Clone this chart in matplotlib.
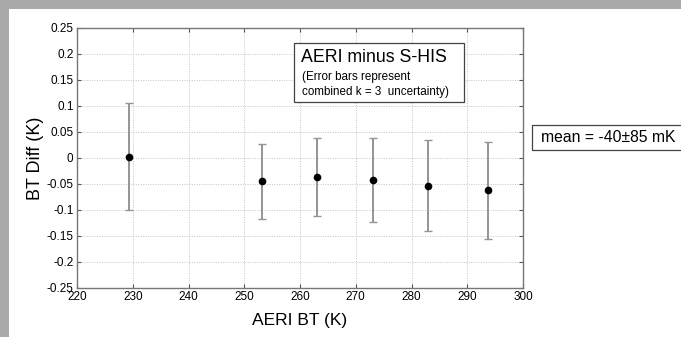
import numpy as np
import matplotlib.pyplot as plt
from matplotlib.patches import Rectangle

plt.rcParams['font.family'] = ['Liberation Sans', 'DejaVu Sans']

# AERI brightness temperature bins (K)
aeri_bt = [229.3, 253.2, 263.0, 273.1, 282.9, 293.7]
# AERI minus S-HIS brightness temperature difference (K)
bt_diff = [0.002, -0.045, -0.037, -0.043, -0.053, -0.062]
# combined k=3 uncertainty limits (K)
err_top = [0.105, 0.026, 0.038, 0.038, 0.035, 0.031]
err_bot = [-0.100, -0.117, -0.112, -0.124, -0.140, -0.156]

x_ticks = [220, 230, 240, 250, 260, 270, 280, 290, 300]
y_ticks = [0.25, 0.2, 0.15, 0.1, 0.05, 0, -0.05, -0.1, -0.15, -0.2, -0.25]

fig = plt.figure(figsize=(6.81, 3.37), dpi=100)
fig.patch.set_facecolor('#a9a9a9')
# white page area
fig.patches.append(Rectangle((9/681, 0), 1, 1 - 9/337, transform=fig.transFigure,
                             facecolor='white', edgecolor='none', zorder=-10))

ax = fig.add_axes([77/681, 1 - 288/337, 446/681, 260/337])

yerr = np.array([np.array(bt_diff) - np.array(err_bot),
                 np.array(err_top) - np.array(bt_diff)])
ax.errorbar(aeri_bt, bt_diff, yerr=yerr, fmt='o', color='black', ms=4.5,
            ecolor='#959595', elinewidth=1.4, capsize=3, capthick=1, zorder=3)

ax.set_xlim(220, 300)
ax.set_ylim(-0.25, 0.25)
ax.set_xticks(x_ticks)
ax.set_yticks(y_ticks)
ax.set_xticklabels([str(v) for v in x_ticks])
ax.set_yticklabels(['%g' % v for v in y_ticks])
ax.tick_params(direction='in', length=3, labelsize=8.5, top=True, right=True,
               color='#555555', pad=2.5)
ax.grid(True, linestyle=(0, (1, 1.5)), color='#c4c4c4', linewidth=0.7)
for s in ax.spines.values():
    s.set_color('#777777')
    s.set_linewidth(1)

ax.set_xlabel('AERI BT (K)', fontsize=12.5, labelpad=7)
ax.set_ylabel('BT Diff (K)', fontsize=13, labelpad=2)

# annotation box
fig.patches.append(Rectangle((294/681, 1 - 102/337), 170/681, 59/337,
                             transform=fig.transFigure, facecolor='white',
                             edgecolor='#444444', linewidth=0.9, zorder=5))
fig.text(301/681, 1 - 58/337, 'AERI minus S-HIS', fontsize=12.8, va='center', zorder=6)
fig.text(302/681, 1 - 77/337, '(Error bars represent', fontsize=8.4, va='center', zorder=6)
fig.text(302/681, 1 - 92/337, 'combined k = 3  uncertainty)', fontsize=8.4, va='center', zorder=6)

fig.patches.append(Rectangle((532/681, 1 - 150/337), 160/681, 25/337,
                             transform=fig.transFigure, facecolor='white',
                             edgecolor='#444444', linewidth=0.9, zorder=5))
fig.text(541/681, 1 - 137.5/337, 'mean = -40\u00b185 mK', fontsize=11.3, va='center', zorder=6)

fig.savefig('out.png', dpi=100, facecolor=fig.get_facecolor())
